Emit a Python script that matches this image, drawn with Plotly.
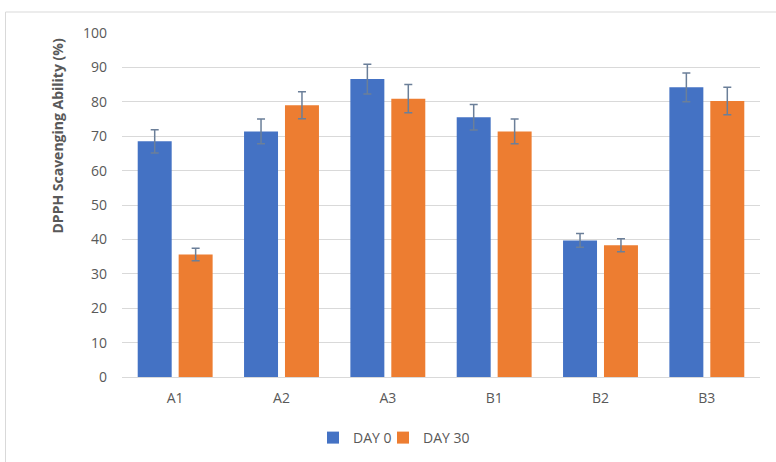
import plotly.graph_objects as go

categories = ["A1", "A2", "A3", "B1", "B2", "B3"]
day0 = [68.5, 71.4, 86.6, 75.5, 39.7, 84.2]
day0_err = [3.4, 3.6, 4.3, 3.7, 2.0, 4.2]
day30 = [35.6, 79.0, 80.9, 71.4, 38.3, 80.2]
day30_err = [1.8, 3.9, 4.1, 3.6, 1.9, 4.0]
y_ticks = [0, 10, 20, 30, 40, 50, 60, 70, 80, 90, 100]

font_family = "Open Sans, Noto Sans, sans-serif"
txt = "#595959"
err_color = "#6b7f99"

W, H = 776, 462
L, T = 122, 33
R = W - 760
B = H - 377
pw, ph = W - L - R, H - T - B


def px(xp):
    return (xp - L) / pw


def py(yp):
    return (H - B - yp) / ph


fig = go.Figure()
fig.add_trace(go.Bar(
    name="DAY 0", x=categories, y=day0, legend="legend",
    marker=dict(color="#4472C4", line=dict(width=0)),
    error_y=dict(type="data", array=day0_err, color=err_color, thickness=1.5, width=4),
))
fig.add_trace(go.Bar(
    name="DAY 30", x=categories, y=day30, legend="legend2",
    marker=dict(color="#ED7D31", line=dict(width=0)),
    error_y=dict(type="data", array=day30_err, color=err_color, thickness=1.5, width=4),
))

legend_common = dict(orientation="h", xanchor="left", yanchor="top",
                     font=dict(size=14, color=txt), itemwidth=30,
                     bgcolor="rgba(0,0,0,0)")

fig.update_layout(
    width=W, height=H,
    margin=dict(l=L, r=R, t=T, b=B, autoexpand=False),
    paper_bgcolor="white", plot_bgcolor="white",
    barmode="group", bargap=0.23, bargroupgap=0.17,
    font=dict(family=font_family, color=txt, size=13),
    showlegend=True,
    legend=dict(x=px(313), y=py(422), **legend_common),
    legend2=dict(x=px(383), y=py(422), **legend_common),
    xaxis=dict(showgrid=False, showline=True, linecolor="#d9d9d9", linewidth=1,
               ticks="", tickfont=dict(size=14, color=txt), ticklabelstandoff=8,
               automargin=False),
    yaxis=dict(range=[0, 100], tickvals=y_ticks, showgrid=True, gridcolor="#d9d9d9",
               gridwidth=1, zeroline=False, ticks="", tickfont=dict(size=14, color=txt),
               ticklabelstandoff=14, automargin=False),
    annotations=[dict(text="<b>DPPH Scavenging Ability (%)</b>", textangle=-90,
                      xref="paper", yref="paper", x=px(57), y=py(37),
                      xanchor="center", yanchor="top", showarrow=False,
                      font=dict(size=14, color=txt))],
    shapes=[dict(type="rect", xref="paper", yref="paper",
                 x0=px(5.5), x1=1.2, y0=-0.6, y1=py(12),
                 line=dict(color="#d9d9d9", width=1), fillcolor="rgba(0,0,0,0)", layer="below")],
)

fig.write_html("out.html", config={"displayModeBar": False},
               post_script="document.body.style.margin='0';")
